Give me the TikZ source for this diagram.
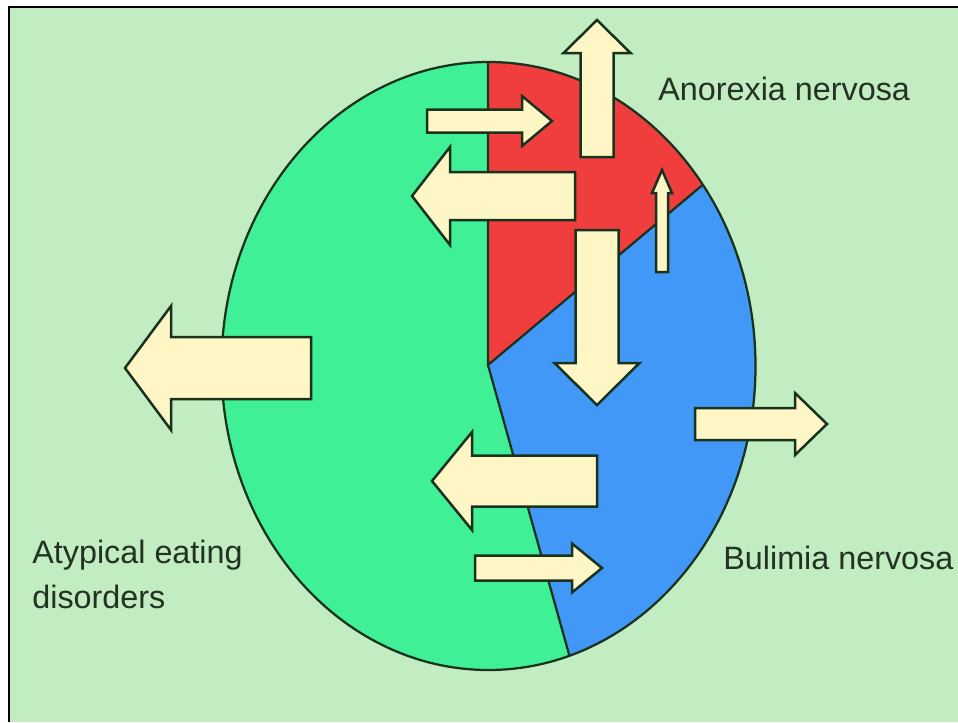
\documentclass[tikz,border=0pt]{standalone}
\usepackage{fontspec}
\newfontfamily\labelfont{Liberation Sans}
\definecolor{paleBg}{RGB}{194,236,194}
\definecolor{mintA}{RGB}{64,240,150}
\definecolor{redA}{RGB}{240,62,62}
\definecolor{blueA}{RGB}{66,152,246}
\definecolor{creamA}{RGB}{255,246,198}
\definecolor{ink}{RGB}{25,50,30}
\definecolor{textInk}{RGB}{35,50,35}
\tikzset{
  rim/.style={draw=ink, line width=0.45mm},
  frame/.style={draw=black, line width=0.5mm},
  blockarrow/.style={draw=ink, fill=creamA, line width=0.5mm, line join=miter},
  diagnosis/.style={
    font=\labelfont\fontsize{18.4pt}{25.6pt}\selectfont,
    text=textInk,
    inner sep=0pt,
    align=left
  },
}
\newcommand{\fatarrow}[6]{%
  \draw[blockarrow, shift={#1}, rotate=#2]
    (0,-#4) -- ({#3-#6},-#4) -- ({#3-#6},-#5) -- (#3,0)
    -- ({#3-#6},#5) -- ({#3-#6},#4) -- (0,#4) -- cycle;}

\begin{document}
\begin{tikzpicture}[x=0.2mm,y=-0.2mm]

\useasboundingbox (0,0) rectangle (958,722);
\fill[white] (0,0) rectangle (958,722);
\fill[paleBg] (9,7) rectangle (958,722);
\draw[frame] (9,722) -- (9,7) -- (958,7);

\coordinate (hub) at (488,365);
\coordinate (centre) at (488.5,366);

\begin{scope}
  \clip (centre) ellipse [x radius=267, y radius=304];
  \fill[blueA] (200,0) rectangle (800,722);
  \fill[mintA] (200,0) -- (488,0) -- (hub) -- (588,722) -- (200,722) -- cycle;
  \fill[redA] (488,0) -- (hub) -- (923,0) -- cycle;
  \draw[rim] (488,0) -- (hub) -- (923,0);
  \draw[rim] (hub) -- (588,722);
\end{scope}
\draw[rim] (centre) ellipse [x radius=267, y radius=304];

\fatarrow{(597,157)}{90}{137}{16.5}{33.5}{33}
\fatarrow{(427,121)}{0}{125}{11.5}{25}{30}
\fatarrow{(575,196)}{180}{163}{24}{49}{38}
\fatarrow{(662,272)}{90}{102}{6}{10}{23}
\fatarrow{(597,230)}{270}{175}{21.5}{42.5}{42}
\fatarrow{(311,368)}{180}{186}{31}{62}{46}
\fatarrow{(695,424)}{0}{132}{16}{31}{32}
\fatarrow{(597,481)}{180}{165}{25.5}{49}{40}
\fatarrow{(475,568)}{0}{127}{12.5}{24.5}{30}

\node[diagnosis, anchor=base west] (anorexia) at (658,100) {Anorexia nervosa};
\node[diagnosis, anchor=base west] (bulimia) at (723,569) {Bulimia nervosa};
\node[diagnosis, anchor=north west] (atypical) at (32,540) {Atypical eating\\disorders};

\end{tikzpicture}
\end{document}
